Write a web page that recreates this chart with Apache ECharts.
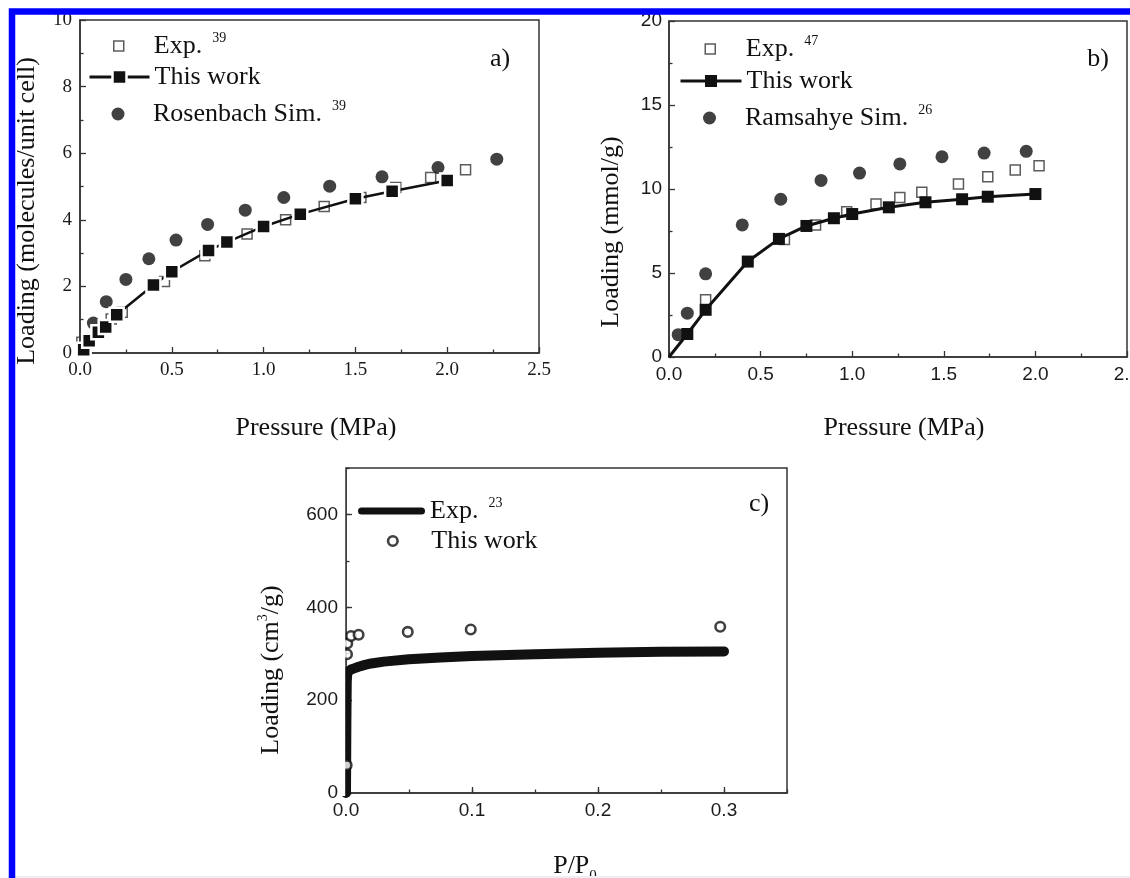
<!DOCTYPE html>
<html>
<head>
<meta charset="utf-8">
<title>Adsorption isotherms</title>
<script src="https://cdn.jsdelivr.net/npm/echarts@6/dist/echarts.min.js"></script>
<style>
  html, body { margin: 0; padding: 0; background: #fff; }
  #chart { width: 1130px; height: 878px; }
</style>
</head>
<body>
<div id="chart"></div>
<script>
// ---- a) loading (molecules / unit cell) vs pressure (MPa) ----
const pressureTicksA = [0, 0.5, 1.0, 1.5, 2.0, 2.5];
const loadingTicksA = [0, 2, 4, 6, 8, 10];
const expA = [[0.01, 0.32], [0.17, 1.02], [0.23, 1.22], [0.46, 2.15], [0.68, 2.92], [0.91, 3.57],
  [1.12, 4.0], [1.33, 4.4], [1.53, 4.67], [1.72, 4.97], [1.91, 5.27], [2.1, 5.5]];
const workA = [[0.02, 0.1], [0.05, 0.37], [0.1, 0.62], [0.14, 0.78], [0.2, 1.15], [0.4, 2.04],
  [0.5, 2.44], [0.7, 3.08], [0.8, 3.33], [1.0, 3.8], [1.2, 4.17], [1.5, 4.63], [1.7, 4.86], [2.0, 5.18]];
const simA = [[0.073, 0.9], [0.143, 1.54], [0.25, 2.21], [0.375, 2.83], [0.523, 3.39], [0.695, 3.86],
  [0.9, 4.29], [1.11, 4.67], [1.36, 5.01], [1.645, 5.29], [1.95, 5.57], [2.27, 5.82]];

// ---- b) loading (mmol/g) vs pressure (MPa) ----
const pressureTicksB = [0, 0.5, 1.0, 1.5, 2.0, 2.5];
const loadingTicksB = [0, 5, 10, 15, 20];
const expB = [[0.2, 3.41], [0.63, 7.0], [0.8, 7.86], [0.97, 8.65], [1.13, 9.11], [1.26, 9.5],
  [1.38, 9.8], [1.58, 10.3], [1.74, 10.73], [1.89, 11.13], [2.02, 11.39]];
const workB = [[0, 0], [0.1, 1.37], [0.2, 2.81], [0.43, 5.68], [0.6, 7.03], [0.75, 7.8], [0.9, 8.26],
  [1.0, 8.51], [1.2, 8.91], [1.4, 9.21], [1.6, 9.39], [1.74, 9.54], [2.0, 9.7]];
const simB = [[0.05, 1.33], [0.1, 2.61], [0.2, 4.95], [0.4, 7.86], [0.61, 9.39], [0.83, 10.51],
  [1.04, 10.95], [1.26, 11.49], [1.49, 11.92], [1.72, 12.14], [1.95, 12.24]];

// ---- c) loading (cm3/g) vs relative pressure P/P0 ----
const relPressureTicksC = [0, 0.1, 0.2, 0.3];
const relPressureMaxC = 0.35;
const relPressureMinorStepC = 0.05;
const loadingTicksC = [0, 200, 400, 600];
const loadingMaxC = 700;
const loadingMinorStepC = 100;
const expC = [[0, 0], [0.0003, 150], [0.0006, 240], [0.001, 257], [0.002, 262], [0.004, 266],
  [0.007, 269], [0.01, 272], [0.015, 276], [0.02, 279], [0.03, 283], [0.05, 288], [0.075, 292],
  [0.1, 295], [0.15, 299], [0.2, 302], [0.25, 304], [0.3, 305]];
const workC = [[0.0005, 60], [0.0008, 299], [0.001, 322], [0.004, 338], [0.01, 341],
  [0.049, 347], [0.099, 352], [0.297, 358]];

// legend wording (rich text: t = main, s = superscript reference)
const legendLabels = {
  'exp-a': '{t|Exp.}{s|39}',
  'work-a': '{t|This work}',
  'sim-a': '{t|Rosenbach Sim.}{s|39}',
  'exp-b': '{t|Exp.}{s|47}',
  'work-b': '{t|This work}',
  'sim-b': '{t|Ramsahye Sim.}{s|26}',
  'exp-c': '{t|Exp.}{s|23}',
  'work-c': '{t|This work}'
};

const SERIF = "'Liberation Serif', 'Times New Roman', serif";
const SANS = "'Liberation Sans', Arial, sans-serif";
const INK = '#111';
const AXIS = '#333';
const LABEL = '#1a1a1a';
const SQUARE_ICON = 'path://M0,0H10V10H0Z';
const BAR_ICON = 'path://M3.5,0H63.5A3.5,3.5,0,0,1,63.5,7H3.5A3.5,3.5,0,0,1,3.5,0Z';

const RICH = {
  t: { fontFamily: SERIF, fontSize: 26, lineHeight: 30, color: INK },
  s: { fontFamily: SERIF, fontSize: 14, lineHeight: 14, verticalAlign: 'top', padding: [0, 0, 0, 10], color: INK }
};

function valueAxis(o) {
  return {
    type: 'value', gridIndex: o.grid, position: o.position,
    min: o.ticks[0], max: o.max, interval: o.ticks[1] - o.ticks[0],
    axisLine: { show: true, onZero: false, lineStyle: { color: AXIS, width: 1.5 } },
    axisTick: { show: true, inside: true, length: 6, lineStyle: { color: AXIS, width: 1.3 } },
    minorTick: { show: o.minor !== false, splitNumber: 2, length: 3.5, lineStyle: { color: AXIS, width: 1.3 } },
    splitLine: { show: false },
    minorSplitLine: { show: false },
    axisLabel: {
      show: true, margin: o.margin, color: LABEL, fontFamily: o.font, fontSize: 19,
      showMinLabel: true, showMaxLabel: o.showMax !== false,
      formatter: v => v.toFixed(o.digits)
    }
  };
}

// short inward ticks only, sharing the grid of a labelled axis
function minorAxis(grid, position, step, max) {
  return {
    type: 'value', gridIndex: grid, position: position, min: 0, max: max, interval: step,
    axisLine: { show: false, onZero: false },
    axisTick: { show: true, inside: true, length: 3.5, lineStyle: { color: AXIS, width: 1.3 } },
    axisLabel: { show: false },
    splitLine: { show: false }
  };
}

// One legend row. `slot` is the left edge of the icon slot (width w); a square/round
// icon only occupies h x h in the middle of that slot, and the legend box is placed
// from its visible content, so shift by the empty part of the slot.
function legendRow(name, slot, top, w, h, iconFillsSlot, extra) {
  const left = iconFillsSlot ? slot : slot + (w - h) / 2;
  return Object.assign({
    data: [name], left: left, top: top, orient: 'vertical', padding: 0,
    itemWidth: w, itemHeight: h, selectedMode: false,
    formatter: n => legendLabels[n],
    textStyle: { color: INK, fontFamily: SERIF, fontSize: 26, lineHeight: 30, rich: RICH }
  }, extra);
}

function gridBox(left, top, width, height) {
  return {
    left: left, top: top, width: width, height: height, show: true,
    borderColor: AXIS, borderWidth: 1.5, backgroundColor: 'transparent',
    containLabel: false, outerBoundsMode: 'none'
  };
}

function serifText(text, x, y, rotation, rich) {
  const el = {
    type: 'text', x: x, y: y, rotation: rotation || 0, silent: true, z: 10,
    style: {
      text: text, fill: INK, fontFamily: SERIF, fontSize: 26,
      align: 'center', verticalAlign: 'middle', textAlign: 'center', textVerticalAlign: 'middle'
    }
  };
  if (rich) el.style.rich = rich;
  return el;
}

const chart = echarts.init(document.getElementById('chart'), null, { renderer: 'canvas' });

chart.setOption({
  animation: false,
  backgroundColor: '#fff',
  textStyle: { fontFamily: SERIF },
  grid: [
    gridBox(80, 20, 459, 333),
    gridBox(669, 21, 458, 336),
    gridBox(346, 468, 441, 325)
  ],
  xAxis: [
    valueAxis({ grid: 0, position: 'bottom', ticks: pressureTicksA, max: pressureTicksA[pressureTicksA.length - 1], font: SERIF, digits: 1, margin: 8 }),
    valueAxis({ grid: 1, position: 'bottom', ticks: pressureTicksB, max: pressureTicksB[pressureTicksB.length - 1], font: SANS, digits: 1, margin: 8.5 }),
    valueAxis({ grid: 2, position: 'bottom', ticks: relPressureTicksC, max: relPressureMaxC, font: SANS, digits: 1, margin: 8, minor: false, showMax: false }),
    minorAxis(2, 'bottom', relPressureMinorStepC, relPressureMaxC)
  ],
  yAxis: [
    valueAxis({ grid: 0, position: 'left', ticks: loadingTicksA, max: loadingTicksA[loadingTicksA.length - 1], font: SERIF, digits: 0, margin: 8 }),
    valueAxis({ grid: 1, position: 'left', ticks: loadingTicksB, max: loadingTicksB[loadingTicksB.length - 1], font: SANS, digits: 0, margin: 7 }),
    valueAxis({ grid: 2, position: 'left', ticks: loadingTicksC, max: loadingMaxC, font: SANS, digits: 0, margin: 8, minor: false, showMax: false }),
    minorAxis(2, 'left', loadingMinorStepC, loadingMaxC)
  ],
  legend: [
    legendRow('exp-a', 88, 31, 60, 10, false, { data: [{ name: 'exp-a', icon: SQUARE_ICON }], itemStyle: { color: 'rgba(255,255,255,0)', borderColor: AXIS, borderWidth: 1.5 } }),
    legendRow('work-a', 88, 62, 60, 17.5, true, { itemStyle: { color: INK, borderColor: '#fff', borderWidth: 2.5 }, lineStyle: { color: INK, width: 3 } }),
    legendRow('sim-a', 88, 99, 60, 13, false, { data: [{ name: 'sim-a', icon: 'circle' }], itemStyle: { color: INK, borderWidth: 0 } }),

    legendRow('exp-b', 679, 34, 61, 10, false, { data: [{ name: 'exp-b', icon: SQUARE_ICON }], itemStyle: { color: 'rgba(255,255,255,0)', borderColor: AXIS, borderWidth: 1.5 } }),
    legendRow('work-b', 679, 66, 61, 15, true, { itemStyle: { color: INK, borderWidth: 0 }, lineStyle: { color: INK, width: 3 } }),
    legendRow('sim-b', 679, 103, 61, 13, false, { data: [{ name: 'sim-b', icon: 'circle' }], itemStyle: { color: INK, borderWidth: 0 } }),

    legendRow('exp-c', 358, 496, 67, 7, true, { data: [{ name: 'exp-c', icon: BAR_ICON }], itemStyle: { color: INK, borderWidth: 0 } }),
    legendRow('work-c', 358, 526, 67, 9.5, false, { data: [{ name: 'work-c', icon: 'circle' }], itemStyle: { color: '#fff', borderColor: INK, borderWidth: 2.6 } })
  ],
  series: [
    // a)
    { type: 'scatter', name: 'exp-a', xAxisIndex: 0, yAxisIndex: 0, data: expA, symbol: 'rect', symbolSize: 10,
      itemStyle: { color: 'rgba(255,255,255,0)', borderColor: AXIS, borderWidth: 1.5 }, silent: true },
    { type: 'line', name: 'work-a', xAxisIndex: 0, yAxisIndex: 0, data: workA, symbol: 'rect', symbolSize: 14,
      showSymbol: true, lineStyle: { color: INK, width: 2.5 },
      itemStyle: { color: INK, borderColor: '#fff', borderWidth: 2.5 }, silent: true },
    { type: 'scatter', name: 'sim-a', xAxisIndex: 0, yAxisIndex: 0, data: simA, symbol: 'circle', symbolSize: 13,
      itemStyle: { color: INK }, silent: true },

    // b)
    { type: 'scatter', name: 'exp-b', xAxisIndex: 1, yAxisIndex: 1, data: expB, symbol: 'rect', symbolSize: 10,
      itemStyle: { color: 'rgba(255,255,255,0)', borderColor: AXIS, borderWidth: 1.5 }, silent: true },
    { type: 'line', name: 'work-b', xAxisIndex: 1, yAxisIndex: 1,
      data: workB.map((p, i) => (i === 0 ? { value: p, symbol: 'none' } : p)),
      symbol: 'rect', symbolSize: 12, showSymbol: true,
      lineStyle: { color: INK, width: 3 }, itemStyle: { color: INK }, silent: true },
    { type: 'scatter', name: 'sim-b', xAxisIndex: 1, yAxisIndex: 1, data: simB, symbol: 'circle', symbolSize: 13,
      itemStyle: { color: INK }, silent: true },

    // c)
    { type: 'line', name: 'exp-c', xAxisIndex: 2, yAxisIndex: 2, data: expC, symbol: 'none', showSymbol: false,
      lineStyle: { color: INK, width: 10, cap: 'round', join: 'round' }, itemStyle: { color: INK }, silent: true },
    { type: 'scatter', name: 'work-c', xAxisIndex: 2, yAxisIndex: 2, data: workC, symbol: 'circle', symbolSize: 9.5,
      itemStyle: { color: '#fff', borderColor: INK, borderWidth: 2.6 }, silent: true, z: 3 }
  ],
  graphic: [
    // keeps the c) marks inside the frame on the left
    { type: 'rect', silent: true, z: 4, shape: { x: 338.5, y: 462, width: 6.7, height: 334 }, style: { fill: '#fff' } },

    serifText('a)', 500, 59),
    serifText('b)', 1098, 59),
    serifText('c)', 759, 504),

    serifText('Loading (molecules/unit cell)', 27, 211, Math.PI / 2),
    serifText('Pressure (MPa)', 316, 428.5),
    serifText('Loading (mmol/g)', 611, 232, Math.PI / 2),
    serifText('Pressure (MPa)', 904, 428.5),
    serifText('{t|Loading (cm}{u|3}{t|/g)}', 271, 670, Math.PI / 2, {
      t: { fontFamily: SERIF, fontSize: 26, lineHeight: 30, color: INK },
      u: { fontFamily: SERIF, fontSize: 14, lineHeight: 14, verticalAlign: 'top', color: INK }
    }),
    {
      type: 'text', x: 575, y: 848, silent: true, z: 10,
      style: {
        text: '{t|P/P}{b|0}', fill: INK, align: 'center', verticalAlign: 'top', textAlign: 'center', textVerticalAlign: 'top',
        rich: {
          t: { fontFamily: SERIF, fontSize: 26, lineHeight: 36, color: INK },
          b: { fontFamily: SERIF, fontSize: 15, lineHeight: 10, verticalAlign: 'bottom', color: INK }
        }
      }
    },

    // page frame
    { type: 'rect', silent: true, z: 100, shape: { x: 15, y: 876, width: 1115, height: 2 }, style: { fill: '#ededf3' } },
    { type: 'rect', silent: true, z: 100, shape: { x: 12, y: 11.5, width: 1400, height: 1200 },
      style: { fill: 'none', stroke: '#0000ff', lineWidth: 6.5 } }
  ]
});
</script>
</body>
</html>
